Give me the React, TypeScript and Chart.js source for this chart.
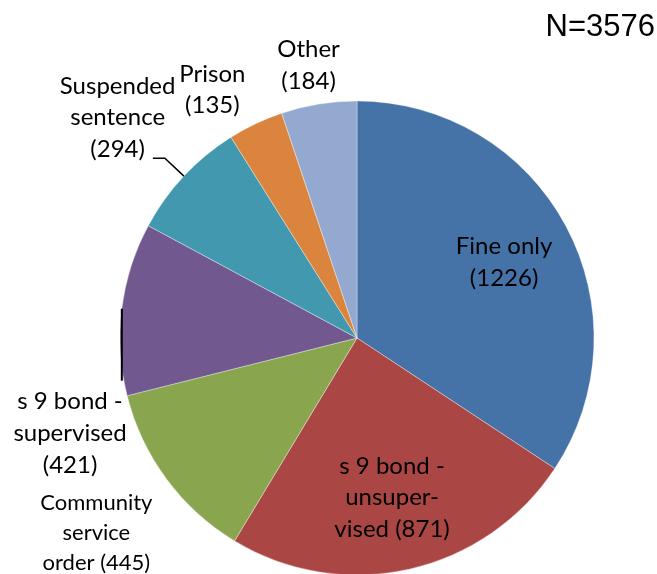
import React, { useEffect, useRef } from "react";
import { Chart, registerables } from "chart.js";

Chart.register(...registerables);

const categories = [
  "Fine only",
  "s 9 bond - unsupervised",
  "Community service order",
  "s 9 bond - supervised",
  "Suspended sentence",
  "Prison",
  "Other",
];
const counts = [1226, 871, 445, 421, 294, 135, 184];
const labelLines = [
  ["Fine only", "(1226)"],
  ["s 9 bond -", "unsuper-", "vised (871)"],
  ["Community", "service", "order (445)"],
  ["s 9 bond -", "supervised", "(421)"],
  ["Suspended", "sentence", "(294)"],
  ["Prison", "(135)"],
  ["Other", "(184)"],
];
const totalLabel = "N=3576";
const colors = ["#4572A7", "#AA4643", "#89A54E", "#71588F", "#4198AF", "#DB843D", "#93A9CF"];

// label placement: radius factor along slice mid-angle, then pixel nudge
const labelPlace = [
  { f: 0.7, dx: 1, dy: 3, size: 24, lh: 31.5 },
  { f: 0.69, dx: -1, dy: 0, size: 24, lh: 31.5 },
  { f: 1.2, dx: -32, dy: 26, size: 22, lh: 30 },
  { f: 1.25, dx: 7, dy: 132, size: 24, lh: 32 },
  { f: 1.25, dx: -23, dy: -18, size: 24, lh: 31.5 },
  { f: 1.21, dx: -22, dy: 11, size: 24, lh: 31.5 },
  { f: 1.165, dx: -4, dy: 0, size: 24, lh: 31.5 },
];

const labelPlugin = {
  id: "sliceLabels",
  afterDatasetsDraw(chart: any) {
    const ctx = chart.ctx;
    const meta = chart.getDatasetMeta(0);
    ctx.save();
    meta.data.forEach((arc: any, i: number) => {
      const { x, y, startAngle, endAngle, outerRadius } = arc.getProps(
        ["x", "y", "startAngle", "endAngle", "outerRadius"],
        true
      );
      const mid = (startAngle + endAngle) / 2;
      const p = labelPlace[i];
      const cx = x + Math.cos(mid) * outerRadius * p.f + p.dx;
      const cy = y + Math.sin(mid) * outerRadius * p.f + p.dy;
      const lines = labelLines[i];
      ctx.font = `${p.size}px Lato`;
      ctx.fillStyle = "#000";
      ctx.textAlign = "center";
      ctx.textBaseline = "middle";
      lines.forEach((ln, k) => {
        ctx.fillText(ln, cx, cy + (k - (lines.length - 1) / 2) * p.lh);
      });

      // leader lines
      ctx.strokeStyle = "#000";
      if (i === 4) {
        const ex = x + Math.cos(mid) * outerRadius;
        const ey = y + Math.sin(mid) * outerRadius;
        const bx = x + Math.cos(mid) * outerRadius * 1.11;
        const by = y + Math.sin(mid) * outerRadius * 1.11;
        ctx.lineWidth = 1.5;
        ctx.beginPath();
        ctx.moveTo(ex, ey);
        ctx.lineTo(bx, by);
        ctx.lineTo(bx - 12, by);
        ctx.stroke();
      }
      if (i === 3) {
        const ex = x + Math.cos(mid) * outerRadius;
        const ey = y + Math.sin(mid) * outerRadius;
        ctx.lineWidth = 2;
        ctx.beginPath();
        ctx.moveTo(ex, ey);
        ctx.lineTo(ex, ey + 72);
        ctx.stroke();
      }
    });
    ctx.font = "31px 'Liberation Sans'";
    ctx.textAlign = "right";
    ctx.textBaseline = "middle";
    ctx.fillStyle = "#000";
    ctx.fillText(totalLabel, 655, 27);
    ctx.restore();
  },
};

export default function App() {
  const ref = useRef<HTMLCanvasElement>(null);
  useEffect(() => {
    const chart = new Chart(ref.current!, {
      type: "pie",
      data: {
        labels: categories,
        datasets: [
          {
            data: counts,
            backgroundColor: colors,
            borderColor: "rgba(255,255,255,0.6)",
            borderWidth: 0.6,
            radius: 237,
          },
        ],
      },
      options: {
        responsive: false,
        animation: false,
        layout: { padding: { left: 57, right: 0, top: 102, bottom: 0 } },
        plugins: {
          legend: { display: false },
          tooltip: { enabled: false },
        },
      },
      plugins: [labelPlugin],
    });
    return () => chart.destroy();
  }, []);
  return (
    <div style={{ position: "fixed", left: 0, top: 0, width: 657, height: 574, background: "#fff" }}>
      <canvas ref={ref} width={657} height={574} style={{ width: 657, height: 574 }} />
    </div>
  );
}
